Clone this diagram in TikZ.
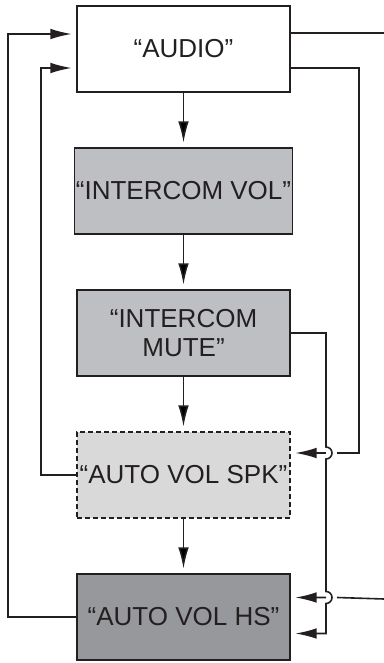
\documentclass[tikz,border=0pt]{standalone}
\usepackage{fontspec}
\setmainfont{Liberation Sans}
\usepackage{tikz}
\usetikzlibrary{positioning,arrows.meta,calc}

\definecolor{inkline}{RGB}{35,31,32}
\definecolor{midgrey}{RGB}{190,191,195}
\definecolor{palegrey}{RGB}{217,217,217}
\definecolor{darkgrey}{RGB}{151,152,156}

\tikzset{
    menubox/.style={draw=inkline, line width=1.4pt, minimum width=159.75pt,
        minimum height=64.5pt, inner sep=1pt, outer sep=0pt, align=center,
        font=\fontsize{19.5}{22}\selectfont, text=inkline},
    link/.style={draw=inkline, line width=1.2pt},
    >={Latex[length=16pt,width=8pt]},
}

\begin{document}
\begin{tikzpicture}[x=0.75pt, y=0.75pt, node distance=42pt]

    \useasboundingbox (0,0) rectangle (384,663);

    \node[menubox] (audio) at (183.5,614) {“AUDIO”};
    \node[menubox, fill=midgrey] (vol) [below=of audio] {“INTERCOM VOL”};
    \node[menubox, fill=midgrey] (mute) [below=of vol] {“INTERCOM\\MUTE”};
    \node[menubox, fill=palegrey, dashed, dash pattern=on 3.5pt off 2.5pt] (spk) [below=of mute] {“AUTO VOL SPK”};
    \node[menubox, fill=darkgrey] (hs) [below=of spk] {“AUTO VOL HS”};

    % ports and bus lines
    \coordinate (audioInA) at ($(audio.west)+(0,15)$);
    \coordinate (audioInB) at ($(audio.west)+(0,-19)$);
    \coordinate (audioOutA) at ($(audio.east)+(0,16)$);
    \coordinate (audioOutB) at ($(audio.east)+(0,-19)$);
    \coordinate (spkIn) at ($(spk.east)+(0,22)$);
    \coordinate (hsInA) at ($(hs.east)+(0,19.5)$);
    \coordinate (hsInB) at ($(hs.east)+(0,-16.5)$);
    \coordinate (outerL) at (8,0);
    \coordinate (innerL) at (41,0);
    \coordinate (busA) at (359,0);
    \coordinate (busB) at (326,0);
    \coordinate (offA) at (384,630);
    \coordinate (offB) at (384,64);

    \path[link, ->, shorten >=4pt] (audio) edge (vol);
    \path[link, ->, shorten >=4pt] (vol) edge (mute);
    \path[link, ->, shorten >=4pt] (mute) edge (spk);
    \path[link, ->, shorten >=4pt] (spk) edge (hs);

    % returns on the left
    \draw[link, ->, shorten >=4pt] (hs.west) -| (outerL |- audioInA) -- (audioInA);
    \draw[link, ->, shorten >=4pt] (spk.west) -| (innerL |- audioInB) -- (audioInB);

    % lines on the right
    \draw[link] (audioOutA) -- (offA);
    \draw[link, ->, shorten >=4pt] (audioOutB) -| (busA |- spkIn) -- ($(busB |- spkIn)+(11,0)$)
        (busB |- spkIn) -- (spkIn);
    \draw[link, ->, shorten >=4pt] (mute.east) -| ($(busB |- spkIn)+(0,6)$)
        arc[start angle=90, end angle=-90, radius=6] -- ($(busB |- hsInA)+(0,6)$)
        arc[start angle=90, end angle=-90, radius=6] |- (hsInB);
    \draw[link, ->, shorten >=4pt] (offB) -- ($(busB |- hsInA)+(11,0)$)
        (busB |- hsInA) -- (hsInA);

\end{tikzpicture}
\end{document}
